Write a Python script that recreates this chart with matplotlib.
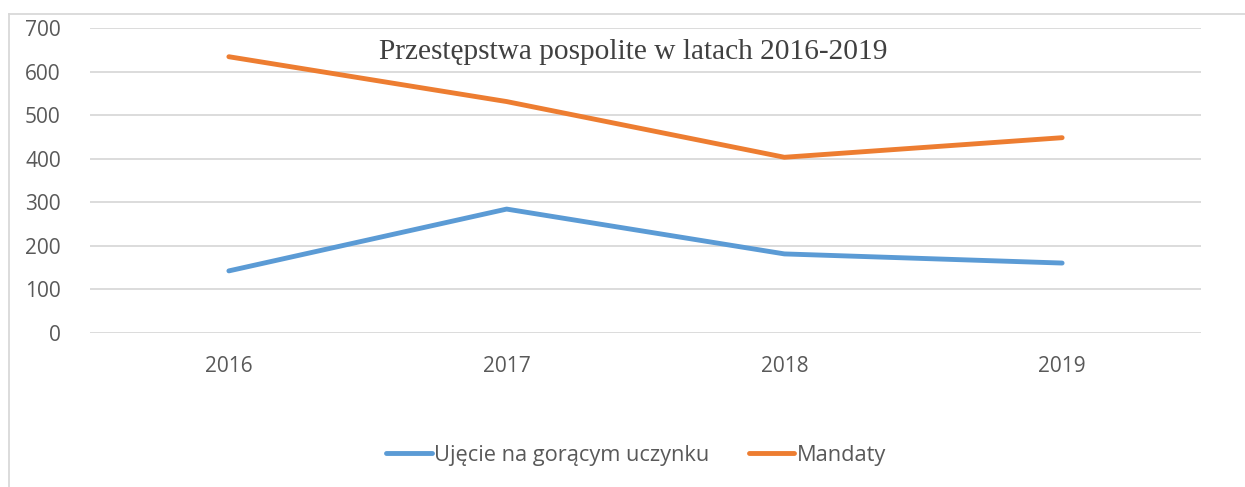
import matplotlib.pyplot as plt
from matplotlib.lines import Line2D

years = ["2016", "2017", "2018", "2019"]
ujecie = [142, 284, 181, 160]
mandaty = [634, 531, 403, 448]

W, H = 1245, 487
fig = plt.figure(figsize=(W / 100, H / 100), dpi=100)
ax = fig.add_axes([90 / W, (H - 332.7) / H, (1201 - 90) / W, (332.7 - 28) / H])

x = range(len(years))
ax.plot(x, ujecie, color="#5b9bd5", lw=3.5, solid_capstyle="round", solid_joinstyle="round",
        label="Ujęcie na gorącym uczynku")
ax.plot(x, mandaty, color="#ed7d31", lw=3.5, solid_capstyle="round", solid_joinstyle="round",
        label="Mandaty")

ax.set_xlim(-0.5, 3.5)
ax.set_ylim(0, 700)
ax.set_yticks(range(0, 701, 100))
ax.set_xticks(list(x))
ax.set_xticklabels(years)
ax.grid(axis="y", color="#d9d9d9", lw=1.3)
ax.set_axisbelow(True)
for s in ax.spines.values():
    s.set_visible(False)
ax.tick_params(length=0, labelsize=15, colors="#595959", labelfontfamily="Open Sans")
ax.tick_params(axis="y", pad=21)
ax.tick_params(axis="x", pad=17)

fig.text(633 / W, 1 - 52 / H, "Przestępstwa pospolite w latach 2016-2019",
         family="Liberation Serif", fontsize=21.2, color="#404040", ha="center", va="center")

fig.legend(loc="center", bbox_to_anchor=(636 / W, 1 - 455 / H), ncol=2, frameon=False,
           handlelength=2.1, handletextpad=0.1, columnspacing=1.8,
           prop={"family": "Open Sans", "size": 15.7}, labelcolor="#595959")

# chart area frame (cropped at right and bottom)
fig.add_artist(Line2D([9 / W, 9 / W], [0, 1 - 14 / H], color="#d9d9d9", lw=1.3,
                      transform=fig.transFigure))
fig.add_artist(Line2D([9 / W, 1], [1 - 14 / H, 1 - 14 / H], color="#d9d9d9", lw=1.3,
                      transform=fig.transFigure))

fig.savefig("out.png", dpi=100)
